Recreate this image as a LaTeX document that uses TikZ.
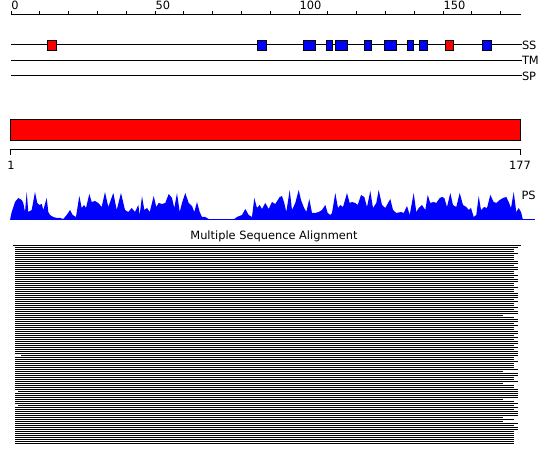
\documentclass[tikz,border=0pt]{standalone}
\usepackage{fontspec}
\setmainfont{DejaVu Sans}
\begin{document}
\begin{tikzpicture}[
    x=1pt, y=-1pt,
    line width=1pt,
    every node/.style={inner sep=0pt, font=\fontsize{11.4}{13}\selectfont},
    ssbox/.style={draw=black, line width=0.8pt},
    msa/.style={line width=1pt}
]
  \useasboundingbox (0,0) rectangle (550,465);

  % ruler
  \draw (11,15) -- (521,15);
  \foreach \i in {0,...,17}
    \draw ({11+28.8*\i},11) -- ({11+28.8*\i},15);
  \foreach \v in {0,50,100,150}
    \node[anchor=base west] (r\v) at ({11+2.88*\v},10) {\v};

  % tracks
  \foreach \t/\y in {SS/45, TM/60.7, SP/76} {
    \coordinate (\t start) at (11,\y);
    \node[anchor=west] (\t) at (521.5,\y) {\t};
    \draw (\t start) -- (\t.west);
  }
  \foreach \a/\b/\c in {47/56.7/red, 257/266.7/blue, 303/315.7/blue,
      326/332.7/blue, 335/347.7/blue, 364/371/blue, 384/396.7/blue,
      407/413.7/blue, 419/427.7/blue, 445/453.7/red, 482/491.7/blue}
    \draw[ssbox, fill=\c] (\a,40) rectangle (\b,50.7);

  % domain bar and scale
  \draw[fill=red] (10,120) rectangle (520,140.5);
  \draw (10,155) -- (10,150) -- (520,150) -- (520,155);
  \node[anchor=base] (first) at (11,170) {1};
  \node[anchor=base] (last) at (520,170) {177};

  % PS profile
  \begin{scope}[shift={(0,220)}, yscale=-1]
    \fill[blue] plot coordinates {(10,0) (11.7,8) (15,18) (18.3,22) (21.7,20)
      (23.3,17) (25,8) (26.7,28) (28.3,8) (31.7,10) (35,28) (37.3,17) (39.3,15)
      (41.7,16) (43.3,10) (46.7,22) (48.3,8) (50,5) (53.3,3) (56.7,2) (60,2)
      (63.3,1) (66.7,5) (70,10) (72.7,5) (76,3) (79.3,24) (81.7,12) (84,15)
      (86,12) (89.3,26) (91.7,18) (95,19) (98.3,17) (101.7,13) (105,28)
      (108.3,13) (113.3,27) (116.7,10) (121,27) (125,10) (128.3,8) (131.7,12)
      (135,8) (138.3,15) (139.7,5) (142,24) (144.3,10) (147,12) (149.7,8)
      (153.7,24) (156.3,13) (158.7,17) (162,16) (165.3,17) (168.7,26) (172,22)
      (174.3,12) (177,27) (179.7,8) (182,17) (185.3,27) (188.7,17) (192,14)
      (194.3,8) (197,18) (199.7,8) (202,3) (205.3,3) (208.7,1) (214,0.7)
      (234,0.7) (237,3) (242,5) (245.3,11) (248.7,5) (252,3) (254.3,22)
      (257,12) (259.7,15) (262,11) (265.3,17) (268.7,11) (272,18) (275.3,16)
      (279.7,23) (282,24) (284.3,17) (286.3,8) (289.7,30) (292,10) (295.3,17)
      (298.7,30) (301,20) (303.7,13) (306.3,8) (309.3,21) (312,7) (315.3,7)
      (318.7,8) (322,10) (325.3,15) (327.7,7) (330.3,5) (332,7) (335.3,27)
      (338,12) (340.3,15) (343,13) (347,27) (349.7,17) (352,18) (355.3,17)
      (357.7,15) (361,25) (364.3,23) (367,13) (370.3,29) (373,12) (376.3,17)
      (378.7,30) (382,15) (385.3,12) (390.3,21) (393,10) (396.3,7) (401,8)
      (403.7,7) (407,14) (409.7,5) (413.7,27) (416.3,8) (418.7,12) (422,15)
      (425.3,10) (427.7,25) (430.3,17) (433.7,18) (436.3,17) (439.7,22)
      (442,23) (444.3,22) (447,13) (450.3,27) (453,15) (456.3,13) (459.7,27)
      (463,15) (466.3,13) (468.7,10) (471,12) (473.7,3) (476.3,5) (478.7,24)
      (481,10) (484.3,13) (487,12) (490.3,25) (493.7,18) (496.3,17) (499.7,20)
      (503,22) (506.3,23) (508.7,18) (511,12) (513.7,28) (516.3,8) (518.7,12)
      (521,8) (523,0)} -- cycle;
  \end{scope}
  \draw[blue] (10,220) -- (535,220);
  \node[anchor=base west] (ps) at (521,200) {PS};

  % alignment
  \node[anchor=base] (msa title) at (274,240) {Multiple Sequence Alignment};
  \foreach \s/\r [count=\k from 0] in {13/521,
      15/518,15/514,15/514,15/518,15/514,15/514,15/514,15/518,15/518,15/514,
      15/518,15/518,15/514,15/514,15/518,15/514,15/518,15/518,15/514,15/514,
      15/518,15/514,15/514,15/518,15/518,15/518,15/514,15/518,15/514,15/514,
      15/518,15/514,15/518,15/518,15/503,15/514,15/518,15/518,15/514,15/518,
      15/514,15/514,15/518,15/518,15/514,15/518,15/514,
      15/518,15/518,15/514,15/518,15/514,15/518,15/518,21/518,15/514,15/514,
      15/518,15/514,15/514,15/514,15/518,15/503,15/518,15/518,15/514,15/514,
      15/518,15/503,15/514,15/514,15/518,18/518,15/518,15/518,15/518,15/503,
      15/514,15/518,18/514,15/518,15/514,15/518,15/518,15/518,15/503,15/514,
      15/503,15/518,15/514,15/518,15/518,15/514,15/514,15/514,15/514,15/514,
      15/514,15/514}
    \draw[msa] (\s,{245.5+2*\k}) -- (\r,{245.5+2*\k});
\end{tikzpicture}
\end{document}
